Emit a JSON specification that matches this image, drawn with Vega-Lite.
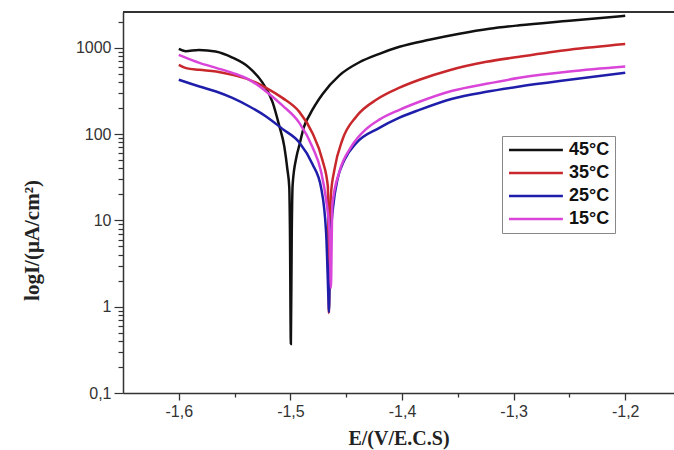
{
  "$schema": "https://vega.github.io/schema/vega-lite/v6.json",
  "autosize": {"type": "none"},
  "padding": {"left": 123, "top": 12, "right": 0, "bottom": 57},
  "width": 551,
  "height": 381,
  "background": "white",
  "config": {"view": {"stroke": null}},
  "data": {"values": [
    {"T": "45°C", "E": -1.600, "I": 970},
    {"T": "45°C", "E": -1.594, "I": 915},
    {"T": "45°C", "E": -1.582, "I": 945},
    {"T": "45°C", "E": -1.567, "I": 905},
    {"T": "45°C", "E": -1.552, "I": 770},
    {"T": "45°C", "E": -1.537, "I": 590},
    {"T": "45°C", "E": -1.525, "I": 395},
    {"T": "45°C", "E": -1.516, "I": 235},
    {"T": "45°C", "E": -1.510, "I": 125},
    {"T": "45°C", "E": -1.5055, "I": 72},
    {"T": "45°C", "E": -1.5027, "I": 39},
    {"T": "45°C", "E": -1.501, "I": 24},
    {"T": "45°C", "E": -1.5004, "I": 7.5},
    {"T": "45°C", "E": -1.4996, "I": 0.37},
    {"T": "45°C", "E": -1.4988, "I": 7},
    {"T": "45°C", "E": -1.498, "I": 26},
    {"T": "45°C", "E": -1.4945, "I": 55},
    {"T": "45°C", "E": -1.4919, "I": 75},
    {"T": "45°C", "E": -1.488, "I": 120},
    {"T": "45°C", "E": -1.483, "I": 165},
    {"T": "45°C", "E": -1.4713, "I": 290},
    {"T": "45°C", "E": -1.4561, "I": 480},
    {"T": "45°C", "E": -1.4382, "I": 680},
    {"T": "45°C", "E": -1.4203, "I": 852},
    {"T": "45°C", "E": -1.4023, "I": 1027},
    {"T": "45°C", "E": -1.3755, "I": 1238},
    {"T": "45°C", "E": -1.3486, "I": 1453},
    {"T": "45°C", "E": -1.3217, "I": 1660},
    {"T": "45°C", "E": -1.2948, "I": 1823},
    {"T": "45°C", "E": -1.25, "I": 2055},
    {"T": "45°C", "E": -1.2, "I": 2350},

    {"T": "35°C", "E": -1.600, "I": 635},
    {"T": "35°C", "E": -1.5935, "I": 582},
    {"T": "35°C", "E": -1.5815, "I": 556},
    {"T": "35°C", "E": -1.5666, "I": 531},
    {"T": "35°C", "E": -1.552, "I": 486},
    {"T": "35°C", "E": -1.5367, "I": 426},
    {"T": "35°C", "E": -1.5218, "I": 344},
    {"T": "35°C", "E": -1.5072, "I": 263},
    {"T": "35°C", "E": -1.492, "I": 181},
    {"T": "35°C", "E": -1.4803, "I": 103},
    {"T": "35°C", "E": -1.4713, "I": 50},
    {"T": "35°C", "E": -1.4664, "I": 24.5},
    {"T": "35°C", "E": -1.4659, "I": 4.6},
    {"T": "35°C", "E": -1.4655, "I": 0.85},
    {"T": "35°C", "E": -1.4648, "I": 5},
    {"T": "35°C", "E": -1.4637, "I": 19.8},
    {"T": "35°C", "E": -1.4606, "I": 38.5},
    {"T": "35°C", "E": -1.4534, "I": 86},
    {"T": "35°C", "E": -1.4409, "I": 160},
    {"T": "35°C", "E": -1.422, "I": 255},
    {"T": "35°C", "E": -1.4023, "I": 345},
    {"T": "35°C", "E": -1.3844, "I": 426},
    {"T": "35°C", "E": -1.3575, "I": 550},
    {"T": "35°C", "E": -1.3244, "I": 688},
    {"T": "35°C", "E": -1.2948, "I": 787},
    {"T": "35°C", "E": -1.25, "I": 948},
    {"T": "35°C", "E": -1.2, "I": 1104},

    {"T": "25°C", "E": -1.600, "I": 426},
    {"T": "25°C", "E": -1.5815, "I": 356},
    {"T": "25°C", "E": -1.5666, "I": 312},
    {"T": "25°C", "E": -1.552, "I": 263},
    {"T": "25°C", "E": -1.5367, "I": 209},
    {"T": "25°C", "E": -1.5218, "I": 160},
    {"T": "25°C", "E": -1.5072, "I": 115},
    {"T": "25°C", "E": -1.492, "I": 80},
    {"T": "25°C", "E": -1.4803, "I": 45},
    {"T": "25°C", "E": -1.4725, "I": 23.9},
    {"T": "25°C", "E": -1.468, "I": 7.2},
    {"T": "25°C", "E": -1.4659, "I": 1.2},
    {"T": "25°C", "E": -1.4655, "I": 0.87},
    {"T": "25°C", "E": -1.4646, "I": 3},
    {"T": "25°C", "E": -1.4637, "I": 6.8},
    {"T": "25°C", "E": -1.4615, "I": 15.2},
    {"T": "25°C", "E": -1.4579, "I": 29.5},
    {"T": "25°C", "E": -1.4516, "I": 50},
    {"T": "25°C", "E": -1.4409, "I": 79},
    {"T": "25°C", "E": -1.4203, "I": 118},
    {"T": "25°C", "E": -1.4023, "I": 155},
    {"T": "25°C", "E": -1.3844, "I": 191},
    {"T": "25°C", "E": -1.3549, "I": 257},
    {"T": "25°C", "E": -1.3244, "I": 309},
    {"T": "25°C", "E": -1.2948, "I": 356},
    {"T": "25°C", "E": -1.25, "I": 426},
    {"T": "25°C", "E": -1.2, "I": 513},

    {"T": "15°C", "E": -1.600, "I": 830},
    {"T": "15°C", "E": -1.5815, "I": 670},
    {"T": "15°C", "E": -1.5666, "I": 586},
    {"T": "15°C", "E": -1.552, "I": 513},
    {"T": "15°C", "E": -1.5367, "I": 426},
    {"T": "15°C", "E": -1.5218, "I": 312},
    {"T": "15°C", "E": -1.5072, "I": 215},
    {"T": "15°C", "E": -1.492, "I": 135},
    {"T": "15°C", "E": -1.4803, "I": 71},
    {"T": "15°C", "E": -1.4725, "I": 36.6},
    {"T": "15°C", "E": -1.468, "I": 17.3},
    {"T": "15°C", "E": -1.465, "I": 7.2},
    {"T": "15°C", "E": -1.4637, "I": 1.66},
    {"T": "15°C", "E": -1.463, "I": 6},
    {"T": "15°C", "E": -1.4624, "I": 15.2},
    {"T": "15°C", "E": -1.4561, "I": 36.6},
    {"T": "15°C", "E": -1.4453, "I": 72},
    {"T": "15°C", "E": -1.4319, "I": 115},
    {"T": "15°C", "E": -1.4203, "I": 147},
    {"T": "15°C", "E": -1.4023, "I": 191},
    {"T": "15°C", "E": -1.3844, "I": 237},
    {"T": "15°C", "E": -1.3549, "I": 318},
    {"T": "15°C", "E": -1.3244, "I": 383},
    {"T": "15°C", "E": -1.2948, "I": 449},
    {"T": "15°C", "E": -1.25, "I": 531},
    {"T": "15°C", "E": -1.2, "I": 606}
  ]},
  "layer": [
    {
      "mark": {"type": "line", "strokeWidth": 2.5, "clip": true, "interpolate": "monotone"},
      "encoding": {
        "x": {
          "field": "E", "type": "quantitative",
          "scale": {"domain": [-1.65, -1.1563], "nice": false, "zero": false},
          "axis": {
            "title": "E/(V/E.C.S)",
            "values": [-1.6, -1.55, -1.5, -1.45, -1.4, -1.35, -1.3, -1.25, -1.2],
            "labelExpr": "abs(datum.value*10 - round(datum.value*10)) < 0.01 ? '-' + replace(format(abs(datum.value), '.1f'), '.', ',') : ''",
            "tickSize": {"condition": {"test": "abs(datum.value*10 - round(datum.value*10)) < 0.01", "value": 7}, "value": 4},
            "grid": false,
            "domainColor": "#333", "domainWidth": 1.5,
            "tickColor": "#333", "tickWidth": 1.3,
            "labelFont": "Liberation Sans", "labelFontSize": 16, "labelColor": "#333",
            "labelPadding": 3,
            "titleFont": "Liberation Serif", "titleFontWeight": "bold", "titleFontSize": 20, "titleColor": "#222",
            "titlePadding": 9
          }
        },
        "y": {
          "field": "I", "type": "quantitative",
          "scale": {"type": "log", "domain": [0.1, 2600], "nice": false},
          "axis": {
            "title": "logI/(μA/cm²)",
            "values": [0.1,0.2,0.3,0.4,0.5,0.6,0.7,0.8,0.9,1,2,3,4,5,6,7,8,9,10,20,30,40,50,60,70,80,90,100,200,300,400,500,600,700,800,900,1000,2000],
            "labelExpr": "datum.value < 0.15 ? '0,1' : (abs(log(datum.value)/LN10 - round(log(datum.value)/LN10)) < 0.001 ? format(datum.value, 'd') : '')",
            "tickSize": {"condition": {"test": "abs(log(datum.value)/LN10 - round(log(datum.value)/LN10)) < 0.001", "value": 9}, "value": 5},
            "grid": false,
            "domainColor": "#333", "domainWidth": 1.5,
            "tickColor": "#333", "tickWidth": 1.2,
            "labelFont": "Liberation Sans", "labelFontSize": 16, "labelColor": "#333",
            "labelPadding": 3,
            "titleFont": "Liberation Serif", "titleFontWeight": "bold", "titleFontSize": 21, "titleColor": "#222",
            "titleX": -91, "titleY": 228, "titleBaseline": "middle", "titleAlign": "center", "titleAngle": -90
          }
        },
        "color": {
          "field": "T", "type": "nominal",
          "scale": {"domain": ["45°C", "35°C", "25°C", "15°C"], "range": ["#111111", "#c8282c", "#1e1eaa", "#d845d8"]},
          "legend": {
            "title": null, "orient": "none", "legendX": 379, "legendY": 124,
            "strokeColor": "#888", "fillColor": "white", "padding": 5,
            "labelFont": "Liberation Sans", "labelFontWeight": "bold", "labelFontSize": 18, "labelColor": "#111",
            "symbolType": "M-1,0H6.7", "symbolSize": 196, "symbolStrokeWidth": 2.5,
            "labelOffset": 44, "rowPadding": 5
          }
        }
      }
    },
    {
      "mark": {"type": "rule", "color": "#333", "strokeWidth": 1.5},
      "encoding": {"y": {"datum": 2600}}
    }
  ]
}
